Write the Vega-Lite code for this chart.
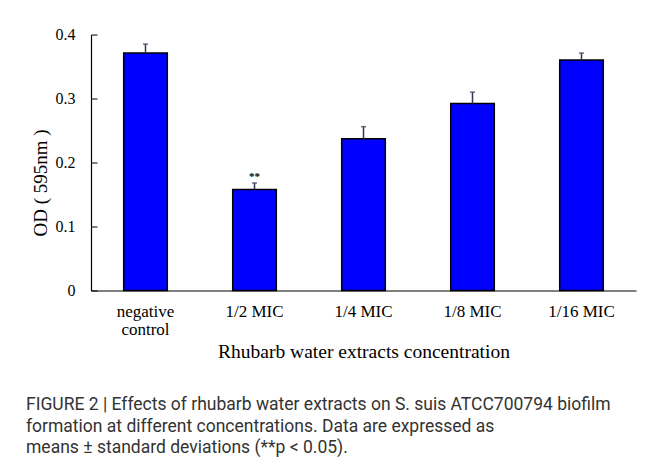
{
  "$schema": "https://vega.github.io/schema/vega-lite/v6.json",
  "width": 545,
  "height": 256,
  "autosize": {"type": "none"},
  "padding": {"left": 91, "top": 34.5, "right": 21, "bottom": 180.5},
  "background": "white",
  "title": {
    "text": [
      "FIGURE 2 | Effects of rhubarb water extracts on S. suis ATCC700794 biofilm",
      "formation at different concentrations. Data are expressed as",
      "means ± standard deviations (**p < 0.05)."
    ],
    "orient": "bottom",
    "anchor": "start",
    "frame": "group",
    "dx": -65,
    "offset": 35,
    "font": "Roboto",
    "fontSize": 17.5,
    "fontWeight": "normal",
    "color": "#333333",
    "lineHeight": 21.5
  },
  "data": {
    "values": [
      {"group": "negative control", "od": 0.371, "upper": 0.385, "sig": ""},
      {"group": "1/2 MIC", "od": 0.158, "upper": 0.168, "sig": "**"},
      {"group": "1/4 MIC", "od": 0.237, "upper": 0.256, "sig": ""},
      {"group": "1/8 MIC", "od": 0.292, "upper": 0.310, "sig": ""},
      {"group": "1/16 MIC", "od": 0.360, "upper": 0.371, "sig": ""}
    ]
  },
  "encoding": {
    "x": {
      "field": "group",
      "type": "nominal",
      "sort": null,
      "scale": {"paddingInner": 0.6, "paddingOuter": 0.3},
      "axis": {
        "title": "Rhubarb water extracts concentration",
        "titleFont": "Liberation Serif",
        "titleFontSize": 19.5,
        "titleFontWeight": "normal",
        "titleColor": "black",
        "titlePadding": 5,
        "labelAngle": 0,
        "labelFont": "Liberation Serif",
        "labelFontSize": 17,
        "labelColor": "black",
        "labelPadding": 13,
        "labelLineHeight": 18,
        "labelExpr": "datum.label == 'negative control' ? ['negative', 'control'] : datum.label",
        "ticks": false,
        "domainColor": "black",
        "domainWidth": 1.2
      }
    }
  },
  "layer": [
    {
      "mark": {"type": "bar", "color": "#0000ff", "stroke": "black", "strokeWidth": 1.5},
      "encoding": {
        "y": {
          "field": "od",
          "type": "quantitative",
          "scale": {"domain": [0, 0.4], "nice": false},
          "axis": {
            "title": "OD ( 595nm )",
            "titleFont": "Liberation Serif",
            "titleFontSize": 19,
            "titleFontWeight": "normal",
            "titleColor": "black",
            "titlePadding": 5,
            "titleY": 148,
            "values": [0, 0.1, 0.2, 0.3, 0.4],
            "labelExpr": "datum.value == 0 ? '0' : format(datum.value, '.1f')",
            "labelFont": "Liberation Serif",
            "labelFontSize": 16,
            "labelColor": "black",
            "labelPadding": 22,
            "tickSize": -6,
            "tickColor": "black",
            "domainColor": "black",
            "domainWidth": 1.2,
            "grid": false
          }
        }
      }
    },
    {
      "mark": {"type": "rule", "color": "#333355", "strokeWidth": 1.5},
      "encoding": {
        "y": {"field": "od", "type": "quantitative"},
        "y2": {"field": "upper"}
      }
    },
    {
      "mark": {"type": "tick", "color": "#333355", "size": 5, "thickness": 1.5},
      "encoding": {
        "y": {"field": "upper", "type": "quantitative"}
      }
    },
    {
      "mark": {"type": "text", "font": "Liberation Serif", "fontSize": 11, "fontWeight": "bold", "baseline": "bottom", "dy": -1},
      "encoding": {
        "y": {"field": "upper", "type": "quantitative"},
        "text": {"field": "sig"}
      }
    }
  ],
  "config": {"view": {"stroke": null}}
}
